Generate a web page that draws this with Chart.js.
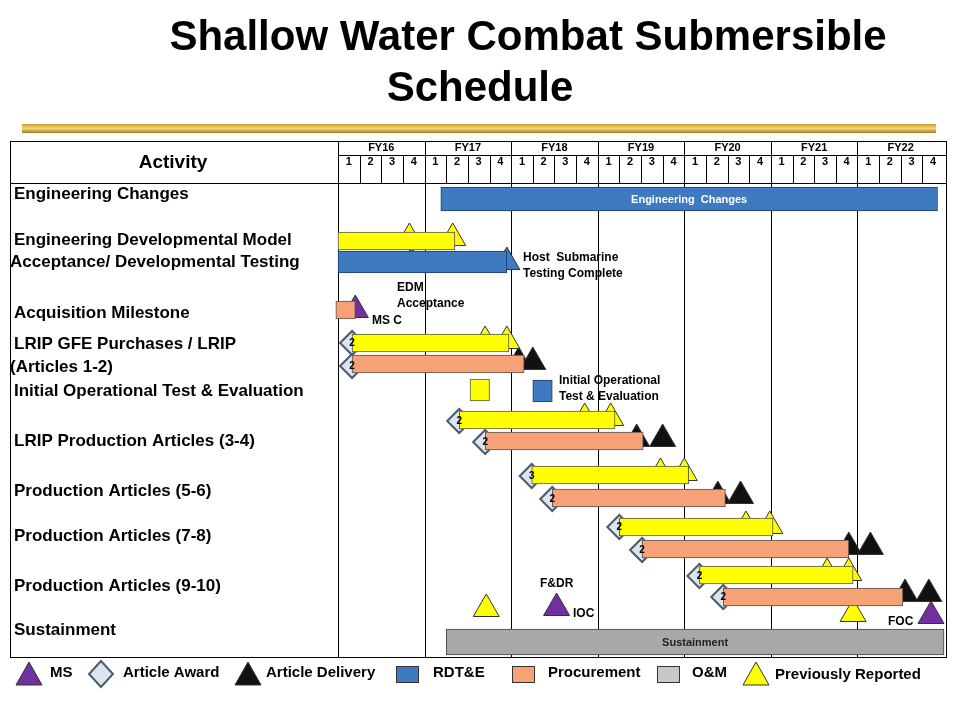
<!DOCTYPE html>
<html><head><meta charset="utf-8">
<script src="https://cdn.jsdelivr.net/npm/chart.js@4"></script>
<style>body{margin:0;background:#fff}#wrap{width:960px;height:720px}</style>
</head><body><div id="wrap"><canvas id="c" width="960" height="720"></canvas></div>
<script>
// ===== DATA =====
const years = ["FY16","FY17","FY18","FY19","FY20","FY21","FY22"];
const quarters = ["1","2","3","4"];
const activities = [
  ["Engineering Changes",194,14],["Engineering Developmental Model",240,14],
  ["Acceptance/ Developmental Testing",262,10],["Acquisition Milestone",313,14],
  ["LRIP GFE Purchases / LRIP",344,14],["(Articles 1-2)",367,10],
  ["Initial Operational Test & Evaluation",391,14],["LRIP Production Articles (3-4)",441,14],
  ["Production Articles (5-6)",491,14],["Production Articles (7-8)",536,14],
  ["Production Articles (9-10)",586,14],["Sustainment",630,14]
];
// bars: [start quarter, end quarter, row]
const yellowBars = [[0,5.4,241],[0.65,7.9,343],[5.6,12.8,420],[8.95,16.2,475],[13,20.1,527],[16.7,23.8,575]];
const yellowBox = [[6.1,7.0,390]];
const blueWide = [[4.75,27.7,199]];
const blueBars = [[0,7.8,262]];
const blueBox = [[9.0,9.9,391]];
const orangeBars = [[-0.1,0.8,310],[0.65,8.6,364],[6.8,14.1,441],[9.9,17.9,498],[14.05,23.6,549],[17.8,26.1,597]];
const grayBars = [[5,28,642]];
// milestones: [quarter, row]
const yellowTri = [[3.3,238],[5.3,238],[6.8,341],[7.8,341],[11.4,418],[12.6,418],[14.9,473],[16.0,473],[18.85,526],[19.95,526],[22.6,573],[23.6,573],[6.85,609],[23.8,614]];
const blueTri = [[3.4,262],[7.8,262]];
const purpleTri = [[0.8,310],[10.1,608],[27.4,616]];
const blackTri = [[8.35,362],[9.0,362],[13.8,439],[15.0,439],[17.55,496],[18.6,496],[23.6,547],[24.6,547],[26.2,594],[27.3,594]];
const diamonds = [[0.65,343,"2"],[0.65,366,"2"],[5.6,421,"2"],[6.8,442,"2"],[8.95,476,"3"],[9.9,499,"2"],[13.0,527,"2"],[14.05,550,"2"],[16.7,576,"2"],[17.8,597,"2"]];
const notes = [
  ["Host  Submarine",523,258],["Testing Complete",523,274],["EDM",397,288],["Acceptance",397,304],
  ["MS C",372,321],["Initial Operational",559,381],["Test & Evaluation",559,397],
  ["F&DR",540,584],["IOC",573,614],["FOC",888,622]
];

const F = "'Liberation Sans', Arial, sans-serif";
const bars = (arr) => arr.map(b => ({x:[b[0],b[1]], y:b[2]}));
const pts = (arr) => arr.map(p => ({x:p[0], y:p[1]}));
function barDs(arr, color, border, th){
  return {type:"bar", data:bars(arr), backgroundColor:color, borderColor:border, borderWidth:1,
    borderSkipped:false, barThickness:th, grouped:false, clip:false};
}
function triDs(arr, color, r){
  return {type:"scatter", data:pts(arr), pointStyle:"triangle", pointRadius:r||15, pointHoverRadius:r||15,
    backgroundColor:color, borderColor:"#333", borderWidth:1, clip:false};
}

const frame = {
  id:"frame",
  beforeDraw(chart){
    const ctx = chart.ctx, xs = chart.scales.x;
    ctx.save();
    ctx.fillStyle="#fff"; ctx.fillRect(0,0,960,720);
    ctx.fillStyle="#000"; ctx.textAlign="center"; ctx.textBaseline="middle";
    ctx.font="bold 42px "+F;
    ctx.fillText("Shallow Water Combat Submersible",528,38);
    ctx.fillText("Schedule",480,89);
    const g = ctx.createLinearGradient(0,124,0,133);
    g.addColorStop(0,"#c89a2a"); g.addColorStop(0.5,"#f4d67a"); g.addColorStop(1,"#a87818");
    ctx.fillStyle=g; ctx.fillRect(22,124,914,9);
    ctx.strokeStyle="#000"; ctx.lineWidth=1;
    ctx.strokeRect(10.5,141.5,936,516);
    ctx.beginPath();
    ctx.moveTo(338.5,141); ctx.lineTo(338.5,657);
    ctx.moveTo(10,183.5); ctx.lineTo(946,183.5);
    ctx.moveTo(338,155.5); ctx.lineTo(946,155.5);
    for(let q=1;q<28;q++){
      const x = Math.round(xs.getPixelForValue(q))+0.5;
      if(q%4===0){ctx.moveTo(x,141); ctx.lineTo(x,657);} else {ctx.moveTo(x,155); ctx.lineTo(x,183);}
    }
    ctx.stroke();
    ctx.fillStyle="#000";
    ctx.font="bold 11px "+F;
    years.forEach((y,i)=>ctx.fillText(y, xs.getPixelForValue(i*4+2),148));
    for(let q=0;q<28;q++) ctx.fillText(quarters[q%4], xs.getPixelForValue(q+0.5),162);
    ctx.font="bold 19px "+F; ctx.fillText("Activity",173,163);
    ctx.textAlign="left"; ctx.font="bold 17px "+F;
    activities.forEach(a=>ctx.fillText(a[0],a[2],a[1]));
    ctx.restore();
  },
  afterDatasetsDraw(chart){
    const ctx = chart.ctx, xs = chart.scales.x, ys = chart.scales.y;
    ctx.save();
    ctx.textAlign="center"; ctx.textBaseline="middle";
    ctx.font="bold 11px "+F; ctx.fillStyle="#fff";
    ctx.fillText("Engineering  Changes", (xs.getPixelForValue(blueWide[0][0])+xs.getPixelForValue(blueWide[0][1]))/2, ys.getPixelForValue(blueWide[0][2])+1);
    ctx.fillStyle="#222";
    ctx.fillText("Sustainment", (xs.getPixelForValue(grayBars[0][0])+xs.getPixelForValue(grayBars[0][1]))/2, ys.getPixelForValue(grayBars[0][2])+1);
    ctx.font="bold 10px "+F; ctx.fillStyle="#000";
    diamonds.forEach(d=>ctx.fillText(d[2], xs.getPixelForValue(d[0]), ys.getPixelForValue(d[1])));
    ctx.textAlign="left"; ctx.font="bold 12px "+F;
    notes.forEach(n=>ctx.fillText(n[0],n[1],n[2]));
    // legend
    const ly = 674;
    function tri(x,c){ctx.beginPath();ctx.moveTo(x,ly-12);ctx.lineTo(x+13,ly+11);ctx.lineTo(x-13,ly+11);ctx.closePath();ctx.fillStyle=c;ctx.fill();ctx.strokeStyle="#333";ctx.stroke();}
    function box(x,c){ctx.fillStyle=c;ctx.fillRect(x,ly-8,22,16);ctx.strokeStyle="#333";ctx.strokeRect(x+0.5,ly-7.5,22,16);}
    tri(29,"#7030a0");
    ctx.beginPath();ctx.moveTo(101,ly-13);ctx.lineTo(113,ly);ctx.lineTo(101,ly+13);ctx.lineTo(89,ly);ctx.closePath();
    ctx.fillStyle="#dde4ee";ctx.fill();ctx.strokeStyle="#4a5a70";ctx.lineWidth=2;ctx.stroke();ctx.lineWidth=1;
    tri(248,"#111");
    box(396,"#3f79bf"); box(512,"#f7a176"); box(657,"#c8c8c8"); tri(756,"#ffff00");
    ctx.fillStyle="#000"; ctx.font="bold 15px "+F;
    [["MS",50],["Article Award",123],["Article Delivery",266],["RDT&E",433],["Procurement",548],["O&M",692],["Previously Reported",775]]
      .forEach(t=>ctx.fillText(t[0],t[1],t[0]==="Previously Reported"?ly+1:ly-1));
    ctx.restore();
  }
};

new Chart(document.getElementById("c"), {
  type:"bar",
  data:{datasets:[
    barDs(blueWide,"#3f79bf","#1f3f6f",24),
    barDs(grayBars,"#a8a8a8","#444",26),
    barDs(yellowBars,"#ffff00","#555",18),
    barDs(yellowBox,"#ffff00","#555",22),
    barDs(blueBars,"#3f79bf","#1f3f6f",22),
    barDs(blueBox,"#3f79bf","#1f3f6f",22),
    barDs(orangeBars,"#f7a176","#555",18),
    triDs(yellowTri,"#ffff00"),
    triDs(blueTri,"#3f79bf"),
    triDs(purpleTri,"#7030a0"),
    triDs(blackTri,"#111"),
    {type:"scatter", data:pts(diamonds), pointStyle:"rectRot", pointRadius:12, pointHoverRadius:12,
      backgroundColor:"#dde4ee", borderColor:"#4a5a70", borderWidth:2, clip:false}
  ]},
  options:{
    indexAxis:"y", responsive:false, animation:false, events:[],
    layout:{padding:{left:338,right:14,top:183,bottom:63}},
    scales:{
      x:{type:"linear", min:0, max:28, display:false, offset:false},
      y:{type:"linear", min:183, max:657, reverse:true, display:false, offset:false}
    },
    plugins:{legend:{display:false}, tooltip:{enabled:false}}
  },
  plugins:[frame]
});
</script></body></html>
